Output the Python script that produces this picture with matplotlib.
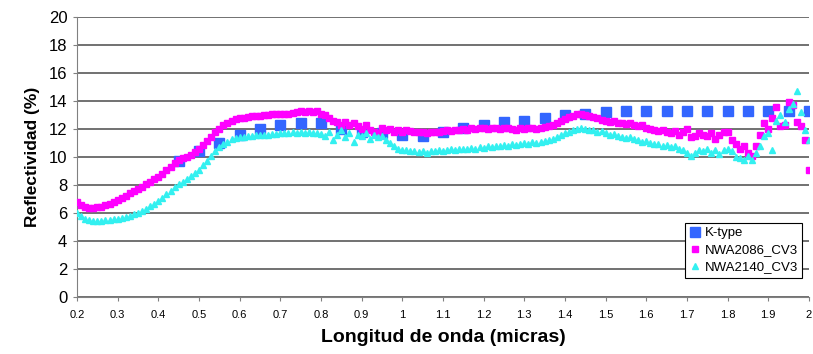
import numpy as np
from matplotlib import pyplot as plt

# Wavelength (microns) for the K-type reference spectrum
k_wl = [0.45, 0.50, 0.55, 0.60, 0.65, 0.70, 0.75, 0.80, 0.85, 0.90, 0.95,
        1.00, 1.05, 1.10, 1.15, 1.20, 1.25, 1.30, 1.35, 1.40, 1.45, 1.50,
        1.55, 1.60, 1.65, 1.70, 1.75, 1.80, 1.85, 1.90, 1.95, 2.00]
k_refl = [9.7, 10.4, 11.0, 11.6, 12.0, 12.3, 12.4, 12.4, 12.0, 11.8, 11.7,
          11.6, 11.5, 11.8, 12.1, 12.3, 12.5, 12.6, 12.8, 13.0, 13.1, 13.2,
          13.25, 13.3, 13.3, 13.3, 13.3, 13.3, 13.3, 13.3, 13.3, 13.3]

# Meteorite spectra, sampled every 0.01 micron from 0.20 to 2.00
wl = [round(0.20 + 0.01 * i, 2) for i in range(181)]

nwa2086 = [
    6.8, 6.6, 6.45, 6.35, 6.35, 6.4, 6.45, 6.55, 6.65, 6.8,          # 0.20-0.29
    6.95, 7.1, 7.25, 7.4, 7.55, 7.7, 7.85, 8.05, 8.2, 8.4,           # 0.30-0.39
    8.6, 8.8, 9.05, 9.3, 9.55, 9.75, 9.9, 10.0, 10.15, 10.35,        # 0.40-0.49
    10.6, 10.85, 11.15, 11.45, 11.75, 12.0, 12.25, 12.45, 12.6, 12.7,  # 0.50-0.59
    12.75, 12.8, 12.85, 12.9, 12.95, 12.95, 13.0, 13.0, 13.05, 13.05,  # 0.60-0.69
    13.1, 13.1, 13.1, 13.15, 13.2, 13.25, 13.2, 13.3, 13.2, 13.3,    # 0.70-0.79
    13.1, 13.0, 12.8, 12.6, 12.5, 12.3, 12.5, 12.3, 12.4, 12.2,      # 0.80-0.89
    12.0, 12.3, 11.9, 11.8, 11.7, 12.1, 11.9, 12.0, 11.8, 11.9,      # 0.90-0.99
    11.8, 11.9, 11.85, 11.8, 11.75, 11.8, 11.7, 11.8, 11.75, 11.8,   # 1.00-1.09
    11.85, 11.9, 11.85, 11.9, 11.95, 12.0, 11.95, 12.05, 12.0, 12.05,  # 1.10-1.19
    12.1, 12.0, 12.05, 12.1, 12.0, 12.05, 12.1, 12.0, 11.95, 12.05,  # 1.20-1.29
    12.0, 12.1, 12.05, 12.0, 12.1, 12.15, 12.2, 12.3, 12.4, 12.55,   # 1.30-1.39
    12.7, 12.85, 12.95, 13.05, 13.1, 13.0, 12.9, 12.85, 12.75, 12.65,  # 1.40-1.49
    12.55, 12.5, 12.6, 12.4, 12.45, 12.35, 12.4, 12.3, 12.2, 12.25,  # 1.50-1.59
    12.1, 12.0, 11.9, 11.85, 11.95, 11.8, 11.7, 11.85, 11.6, 11.75,  # 1.60-1.69
    12.0, 11.4, 11.5, 11.7, 11.6, 11.5, 11.7, 11.3, 11.6, 11.75,     # 1.70-1.79
    11.8, 11.2, 10.9, 10.6, 10.8, 10.3, 10.1, 10.8, 11.6, 12.4,      # 1.80-1.89
    12.0, 12.8, 13.6, 12.2, 12.3, 13.9, 13.7, 12.5, 12.2, 11.2,      # 1.90-1.99
    9.1]                                                              # 2.00

nwa2140 = [
    6.0, 5.8, 5.6, 5.5, 5.45, 5.45, 5.45, 5.5, 5.5, 5.55,            # 0.20-0.29
    5.6, 5.65, 5.7, 5.8, 5.9, 6.0, 6.15, 6.3, 6.5, 6.65,             # 0.30-0.39
    6.85, 7.1, 7.35, 7.6, 7.85, 8.05, 8.25, 8.45, 8.65, 8.85,        # 0.40-0.49
    9.1, 9.4, 9.7, 10.05, 10.4, 10.7, 10.95, 11.1, 11.25, 11.35,     # 0.50-0.59
    11.4, 11.45, 11.5, 11.5, 11.55, 11.6, 11.6, 11.6, 11.65, 11.65,  # 0.60-0.69
    11.7, 11.7, 11.7, 11.75, 11.7, 11.75, 11.7, 11.75, 11.7, 11.7,   # 0.70-0.79
    11.65, 11.5, 11.8, 11.2, 11.6, 11.9, 11.4, 11.7, 11.1, 11.6,     # 0.80-0.89
    11.5, 11.7, 11.3, 11.6, 11.4, 11.5, 11.2, 11.0, 10.8, 10.6,      # 0.90-0.99
    10.5, 10.5, 10.4, 10.45, 10.35, 10.4, 10.3, 10.4, 10.45, 10.5,   # 1.00-1.09
    10.45, 10.5, 10.55, 10.5, 10.6, 10.55, 10.6, 10.65, 10.6, 10.7,  # 1.10-1.19
    10.65, 10.75, 10.7, 10.8, 10.75, 10.85, 10.8, 10.9, 10.85, 10.9,  # 1.20-1.29
    11.0, 10.95, 11.05, 11.0, 11.1, 11.15, 11.2, 11.3, 11.4, 11.55,  # 1.30-1.39
    11.7, 11.8, 11.9, 12.0, 12.05, 12.0, 11.9, 11.95, 11.8, 11.85,   # 1.40-1.49
    11.7, 11.6, 11.65, 11.5, 11.4, 11.35, 11.45, 11.25, 11.2, 11.1,  # 1.50-1.59
    11.15, 11.0, 10.95, 10.9, 10.8, 10.85, 10.7, 10.75, 10.6, 10.5,  # 1.60-1.69
    10.3, 10.1, 10.3, 10.5, 10.4, 10.6, 10.3, 10.5, 10.2, 10.5,      # 1.70-1.79
    10.6, 10.4, 10.0, 9.9, 9.8, 10.1, 9.8, 10.3, 10.8, 11.5,         # 1.80-1.89
    11.7, 10.5, 12.6, 13.0, 12.5, 13.4, 13.8, 14.7, 13.2, 11.9,      # 1.90-1.99
    11.2]                                                             # 2.00

x_ticks = [0.2, 0.3, 0.4, 0.5, 0.6, 0.7, 0.8, 0.9, 1.0, 1.1, 1.2, 1.3,
           1.4, 1.5, 1.6, 1.7, 1.8, 1.9, 2.0]
x_tick_labels = ['0.2', '0.3', '0.4', '0.5', '0.6', '0.7', '0.8', '0.9', '1',
                 '1.1', '1.2', '1.3', '1.4', '1.5', '1.6', '1.7', '1.8', '1.9', '2']
y_ticks = list(range(0, 21, 2))

plt.rcParams['font.family'] = ['Liberation Sans', 'DejaVu Sans']

fig = plt.figure(figsize=(8.13, 3.54), dpi=100)
ax = fig.add_axes([0.0947, 0.161, 0.9003, 0.791])

ax.plot(k_wl, k_refl, ls='none', marker='s', ms=7, color='#3366ff',
        mec='#3366ff', label='K-type', zorder=3)
ax.plot(wl, nwa2086, ls='none', marker='s', ms=3.8, color='#ff00ff',
        mec='#ff00ff', label='NWA2086_CV3', zorder=4)
ax.plot(wl, nwa2140, ls='none', marker='^', ms=4.3, color='#33f0f0',
        mec='#33f0f0', label='NWA2140_CV3', zorder=5)

ax.set_xlim(0.2, 2.0)
ax.set_ylim(0, 20)
ax.set_xticks(x_ticks)
ax.set_xticklabels(x_tick_labels, fontsize=8)
ax.set_yticks(y_ticks)
ax.tick_params(axis='y', labelsize=12, length=3, pad=4, color='#808080')
ax.tick_params(axis='x', length=3, pad=6, color='#808080')

ax.grid(axis='y', color='#4a4a4a', lw=1.1)
ax.set_axisbelow(True)
for side in ['top', 'right']:
    ax.spines[side].set_visible(False)
for side in ['left', 'bottom']:
    ax.spines[side].set_color('#808080')

ax.set_xlabel('Longitud de onda (micras)', fontsize=14, fontweight='bold', labelpad=7)
ax.set_ylabel('Reflectividad (%)', fontsize=12.5, fontweight='bold', labelpad=6)

leg = ax.legend(loc='lower right', bbox_to_anchor=(1.0, 0.045), fontsize=9.5,
                frameon=True, fancybox=False, edgecolor='black', framealpha=1,
                handlelength=0.8, handletextpad=0.3, borderpad=0.35,
                labelspacing=0.35, markerscale=1.0)
leg.get_frame().set_linewidth(0.8)

fig.savefig('out.png', dpi=100)
